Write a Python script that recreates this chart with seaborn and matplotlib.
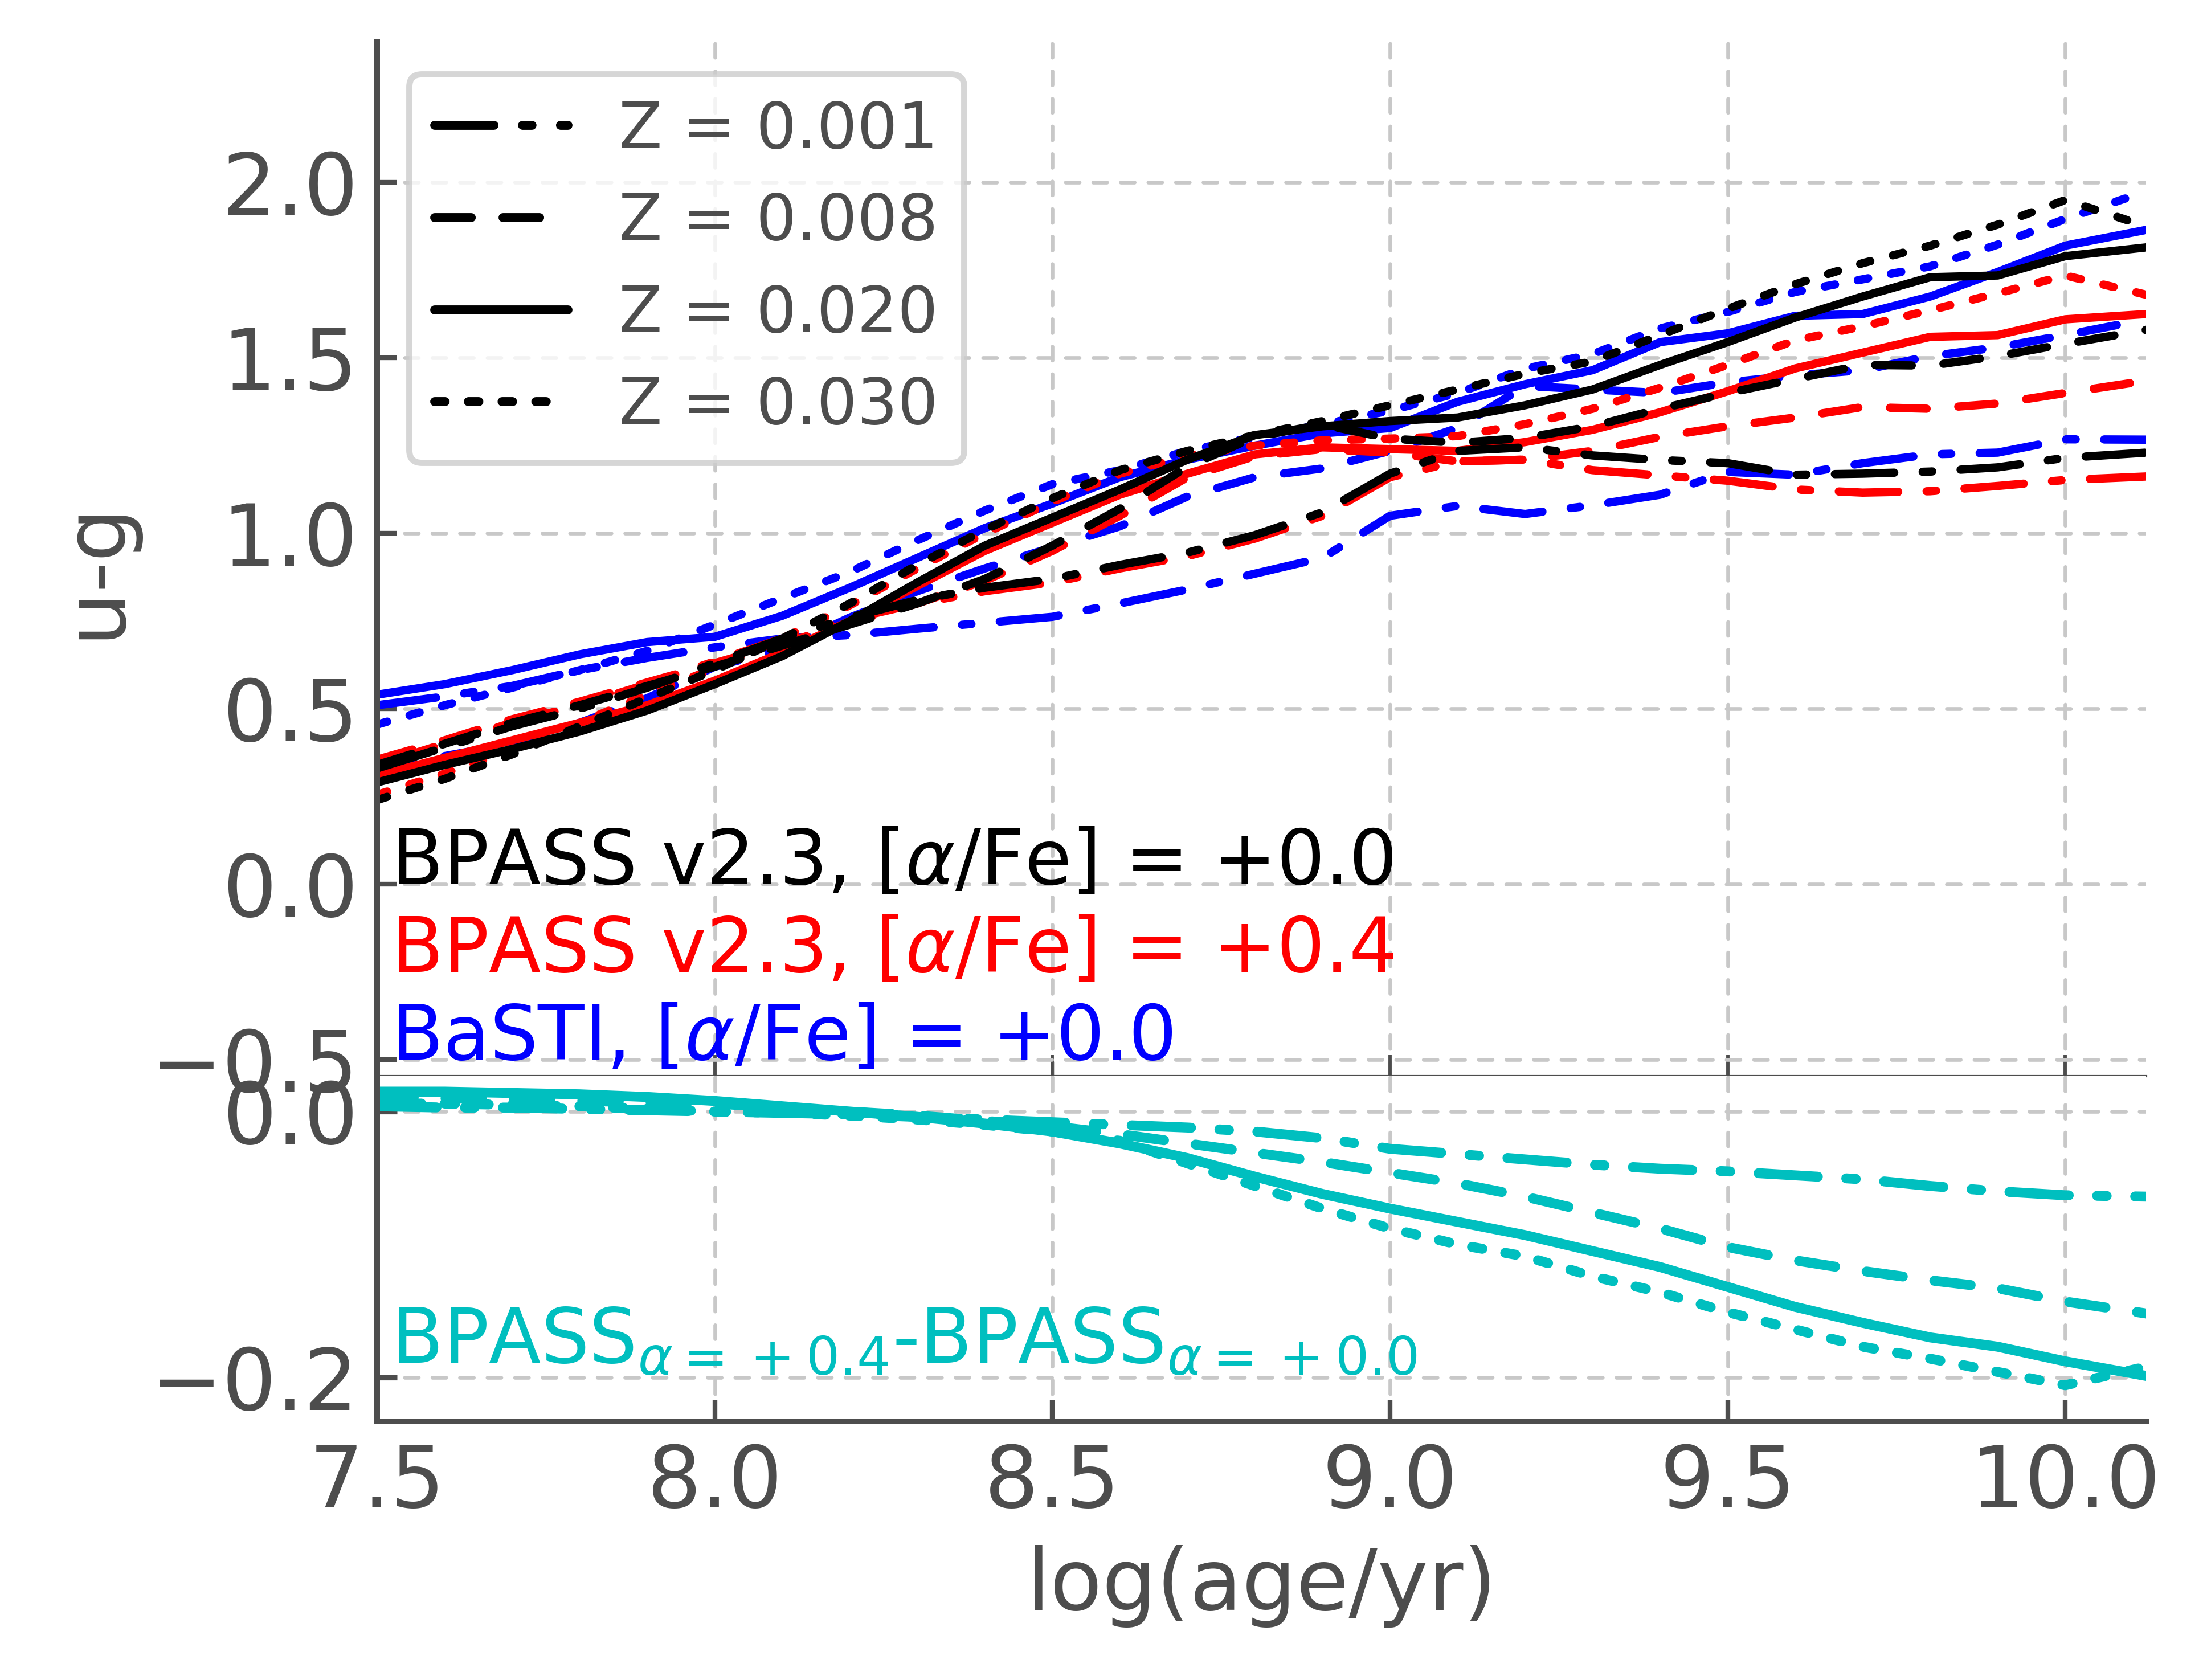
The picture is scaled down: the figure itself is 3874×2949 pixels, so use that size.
import pandas as pd
import matplotlib
matplotlib.use("Agg")
import matplotlib.pyplot as plt
from matplotlib.lines import Line2D
from matplotlib.ticker import MultipleLocator
import seaborn as sns

# log(age/yr) grid shared by all tracks
ages = [7.5, 7.6, 7.7, 7.8, 7.9, 8.0, 8.1, 8.2, 8.3, 8.4, 8.5, 8.6, 8.7, 8.8,
        8.9, 9.0, 9.1, 9.2, 9.3, 9.4, 9.5, 9.6, 9.7, 9.8, 9.9, 10.0, 10.12]
z_labels = ['0.001', '0.008', '0.020', '0.030']

# u-g for BPASS v2.3, [a/Fe] = +0.0
bpass00_z001 = [0.33, 0.39, 0.45, 0.50, 0.56, 0.63, 0.70, 0.76, 0.81, 0.845, 0.87, 0.91, 0.945, 0.995,
                1.06, 1.17, 1.235, 1.245, 1.222, 1.209, 1.20, 1.167, 1.17, 1.176, 1.188, 1.215, 1.23]
bpass00_z008 = [0.34, 0.40, 0.46, 0.51, 0.565, 0.62, 0.68, 0.74, 0.80, 0.87, 0.965, 1.07, 1.19, 1.275,
                1.31, 1.27, 1.258, 1.272, 1.305, 1.355, 1.40, 1.44, 1.48, 1.478, 1.505, 1.54, 1.58]
bpass00_z020 = [0.29, 0.34, 0.385, 0.435, 0.495, 0.57, 0.65, 0.75, 0.86, 0.965, 1.045, 1.125, 1.21, 1.28,
                1.305, 1.32, 1.33, 1.365, 1.41, 1.48, 1.545, 1.615, 1.675, 1.73, 1.735, 1.79, 1.815]
bpass00_z030 = [0.24, 0.30, 0.37, 0.45, 0.53, 0.61, 0.70, 0.80, 0.91, 1.01, 1.10, 1.18, 1.235, 1.28,
                1.32, 1.365, 1.41, 1.455, 1.49, 1.565, 1.64, 1.71, 1.77, 1.82, 1.88, 1.95, 1.875]

# u-g for BPASS v2.3, [a/Fe] = +0.4
bpass04_z001 = [0.34, 0.40, 0.46, 0.51, 0.57, 0.635, 0.70, 0.755, 0.80, 0.835, 0.86, 0.90, 0.935, 0.985,
                1.05, 1.16, 1.205, 1.21, 1.18, 1.165, 1.15, 1.125, 1.116, 1.12, 1.135, 1.152, 1.162]
bpass04_z008 = [0.355, 0.41, 0.47, 0.52, 0.575, 0.63, 0.685, 0.745, 0.80, 0.865, 0.95, 1.05, 1.16, 1.22,
                1.24, 1.23, 1.205, 1.21, 1.235, 1.275, 1.305, 1.33, 1.36, 1.355, 1.37, 1.40, 1.435]
bpass04_z020 = [0.31, 0.36, 0.41, 0.46, 0.51, 0.58, 0.66, 0.75, 0.85, 0.95, 1.03, 1.11, 1.17, 1.225,
                1.245, 1.24, 1.235, 1.26, 1.295, 1.345, 1.405, 1.47, 1.515, 1.56, 1.565, 1.61, 1.625]
bpass04_z030 = [0.255, 0.315, 0.385, 0.46, 0.54, 0.615, 0.70, 0.795, 0.90, 1.0, 1.09, 1.17, 1.22, 1.25,
                1.265, 1.27, 1.277, 1.311, 1.355, 1.415, 1.48, 1.55, 1.59, 1.636, 1.684, 1.735, 1.68]

# u-g for BaSTI, [a/Fe] = +0.0
basti_z001 = [0.51, 0.535, 0.565, 0.61, 0.645, 0.675, 0.70, 0.71, 0.728, 0.745, 0.762, 0.80, 0.84, 0.885,
              0.93, 1.05, 1.078, 1.055, 1.08, 1.11, 1.175, 1.167, 1.20, 1.225, 1.23, 1.268, 1.267]
basti_z008 = [0.33, 0.365, 0.40, 0.46, 0.53, 0.62, 0.67, 0.76, 0.835, 0.90, 0.96, 1.02, 1.105, 1.16,
              1.185, 1.235, 1.30, 1.42, 1.41, 1.40, 1.43, 1.45, 1.465, 1.505, 1.53, 1.565, 1.61]
basti_z020 = [0.54, 0.57, 0.61, 0.655, 0.69, 0.705, 0.765, 0.845, 0.93, 1.015, 1.085, 1.16, 1.21, 1.25,
              1.285, 1.30, 1.375, 1.425, 1.465, 1.545, 1.57, 1.62, 1.625, 1.675, 1.745, 1.82, 1.865]
basti_z030 = [0.455, 0.51, 0.56, 0.61, 0.665, 0.74, 0.815, 0.89, 0.98, 1.065, 1.14, 1.18, 1.235, 1.275,
              1.31, 1.35, 1.40, 1.469, 1.511, 1.584, 1.631, 1.688, 1.724, 1.761, 1.823, 1.896, 1.975]

# BPASS(a=+0.4) - BPASS(a=+0.0)
diff_z001 = [0.004, 0.003, 0.003, 0.002, 0.001, 0.0, -0.001, -0.002, -0.004, -0.006, -0.008, -0.010, -0.012, -0.015,
             -0.020, -0.028, -0.032, -0.036, -0.040, -0.043, -0.045, -0.048, -0.051, -0.056, -0.060, -0.063, -0.064]
diff_z008 = [0.011, 0.010, 0.009, 0.008, 0.007, 0.006, 0.003, 0.0, -0.003, -0.007, -0.011, -0.017, -0.024, -0.031,
             -0.038, -0.046, -0.054, -0.064, -0.076, -0.088, -0.102, -0.112, -0.120, -0.127, -0.133, -0.143, -0.152]
diff_z020 = [0.015, 0.015, 0.014, 0.013, 0.011, 0.008, 0.004, 0.0, -0.004, -0.009, -0.015, -0.024, -0.035, -0.049,
             -0.062, -0.073, -0.083, -0.093, -0.105, -0.117, -0.132, -0.147, -0.159, -0.170, -0.177, -0.188, -0.199]
diff_z030 = [0.006, 0.006, 0.005, 0.004, 0.002, 0.0, -0.001, -0.003, -0.006, -0.010, -0.015, -0.022, -0.039, -0.056,
             -0.073, -0.088, -0.100, -0.109, -0.124, -0.136, -0.151, -0.164, -0.177, -0.186, -0.196, -0.206, -0.192]

models = {
    'BaSTI': [basti_z001, basti_z008, basti_z020, basti_z030],
    'BPASS04': [bpass04_z001, bpass04_z008, bpass04_z020, bpass04_z030],
    'BPASS00': [bpass00_z001, bpass00_z008, bpass00_z020, bpass00_z030],
}
diffs = [diff_z001, diff_z008, diff_z020, diff_z030]

rows = []
for model, series in models.items():
    for z, vals in zip(z_labels, series):
        for a, v in zip(ages, vals):
            rows.append({'logage': a, 'ug': v, 'model': model, 'Z': z})
df_top = pd.DataFrame(rows)

rows = []
for z, vals in zip(z_labels, diffs):
    for a, v in zip(ages, vals):
        rows.append({'logage': a, 'diff': v, 'Z': z})
df_bot = pd.DataFrame(rows)

BLUE, RED, BLACK, CYAN = '#0000ff', '#ff0000', '#000000', '#00bfbf'
palette = {'BaSTI': BLUE, 'BPASS04': RED, 'BPASS00': BLACK}
# dash patterns in points (not scaled with line width)
dashes = {'0.001': (12.5, 6.0, 2.0, 6.0), '0.008': (7.7, 6.7), '0.020': '', '0.030': (2.2, 4.9)}

sns.set_theme(style="ticks", color_codes=False)
gray = '#4d4d4d'
plt.rcParams.update({
    'font.family': ['DejaVu Sans'],
    'lines.scale_dashes': False,
    'lines.dash_capstyle': 'round',
    'lines.solid_capstyle': 'round',
    'axes.edgecolor': gray,
    'axes.labelcolor': gray,
    'xtick.color': gray,
    'ytick.color': gray,
})

fig = plt.figure(figsize=(3874 / 600, 2949 / 600), dpi=600)
ax1 = fig.add_axes([0.1709, 0.3593, 0.8016, 0.6156])
ax2 = fig.add_axes([0.1709, 0.1541, 0.8016, 0.2052], sharex=ax1)

sns.lineplot(data=df_top, x='logage', y='ug', hue='model', hue_order=['BaSTI', 'BPASS04', 'BPASS00'],
             palette=palette, style='Z', style_order=z_labels, dashes=dashes, linewidth=1.75,
             estimator=None, sort=False, legend=False, ax=ax1)
sns.lineplot(data=df_bot, x='logage', y='diff', style='Z', style_order=z_labels, dashes=dashes,
             color=CYAN, linewidth=2.1, estimator=None, sort=False, legend=False, ax=ax2)

grid_kw = dict(color='#c8c8c8', linestyle=(0, (2.9, 2.9)), linewidth=0.8)
for ax in (ax1, ax2):
    ax.grid(True, **grid_kw)
    ax.set_axisbelow(True)
    ax.spines['right'].set_visible(False)
    ax.xaxis.set_major_locator(MultipleLocator(0.5))

ax1.spines['top'].set_visible(False)
ax1.spines['left'].set_linewidth(1.2)
ax1.spines['bottom'].set_linewidth(0.5)
ax2.spines['top'].set_visible(False)
ax2.spines['left'].set_linewidth(1.2)
ax2.spines['bottom'].set_linewidth(1.2)

ax1.set_xlim(7.5, 10.12)
ax1.set_ylim(-0.548, 2.40)
ax2.set_ylim(-0.233, 0.0265)
ax1.yaxis.set_major_locator(MultipleLocator(0.5))
ax2.yaxis.set_major_locator(MultipleLocator(0.2))

ax1.tick_params(axis='y', direction='in', length=4.2, width=1.0, pad=4.0, labelsize=18)
ax1.tick_params(axis='x', direction='in', length=4.5, width=0.7, labelbottom=False)
ax2.tick_params(axis='y', direction='in', length=4.2, width=1.1, pad=4.0, labelsize=18)
ax2.tick_params(axis='x', direction='in', length=4.5, width=1.0, pad=4.5, labelsize=18)

ax1.set_xlabel('')
ax1.set_ylabel('u-g', fontsize=18)
ax1.yaxis.set_label_coords(-0.136, 0.49)
ax2.set_ylabel('')
ax2.set_xlabel('log(age/yr)', fontsize=18)
ax2.xaxis.set_label_coords(0.5, -0.36)

ax1.text(7.52, 0.0, r'BPASS v2.3, [$\alpha$/Fe] = +0.0', color=BLACK, fontsize=16, va='baseline')
ax1.text(7.52, -0.25, r'BPASS v2.3, [$\alpha$/Fe] = +0.4', color=RED, fontsize=16, va='baseline')
ax1.text(7.52, -0.5, r'BaSTI, [$\alpha$/Fe] = +0.0', color=BLUE, fontsize=16, va='baseline')
ax2.text(7.52, -0.189, r'BPASS$_{\alpha=\:+\:0.4}$-BPASS$_{\alpha=\:+\:0.0}$', color=CYAN,
         fontsize=16, va='baseline')

handles = []
for z in z_labels:
    if dashes[z] == '':
        handles.append(Line2D([0], [0], color=BLACK, lw=1.9, linestyle='-'))
    else:
        handles.append(Line2D([0], [0], color=BLACK, lw=1.9, dashes=dashes[z]))
leg = ax1.legend(handles, ['Z = ' + z for z in z_labels], loc='upper left', fontsize=13.4,
                 labelspacing=0.48, handlelength=2.1, borderaxespad=0.5, frameon=True)
for t in leg.get_texts():
    t.set_color(gray)
leg.get_frame().set_linewidth(1.3)

fig.savefig('out.png', dpi=600)
